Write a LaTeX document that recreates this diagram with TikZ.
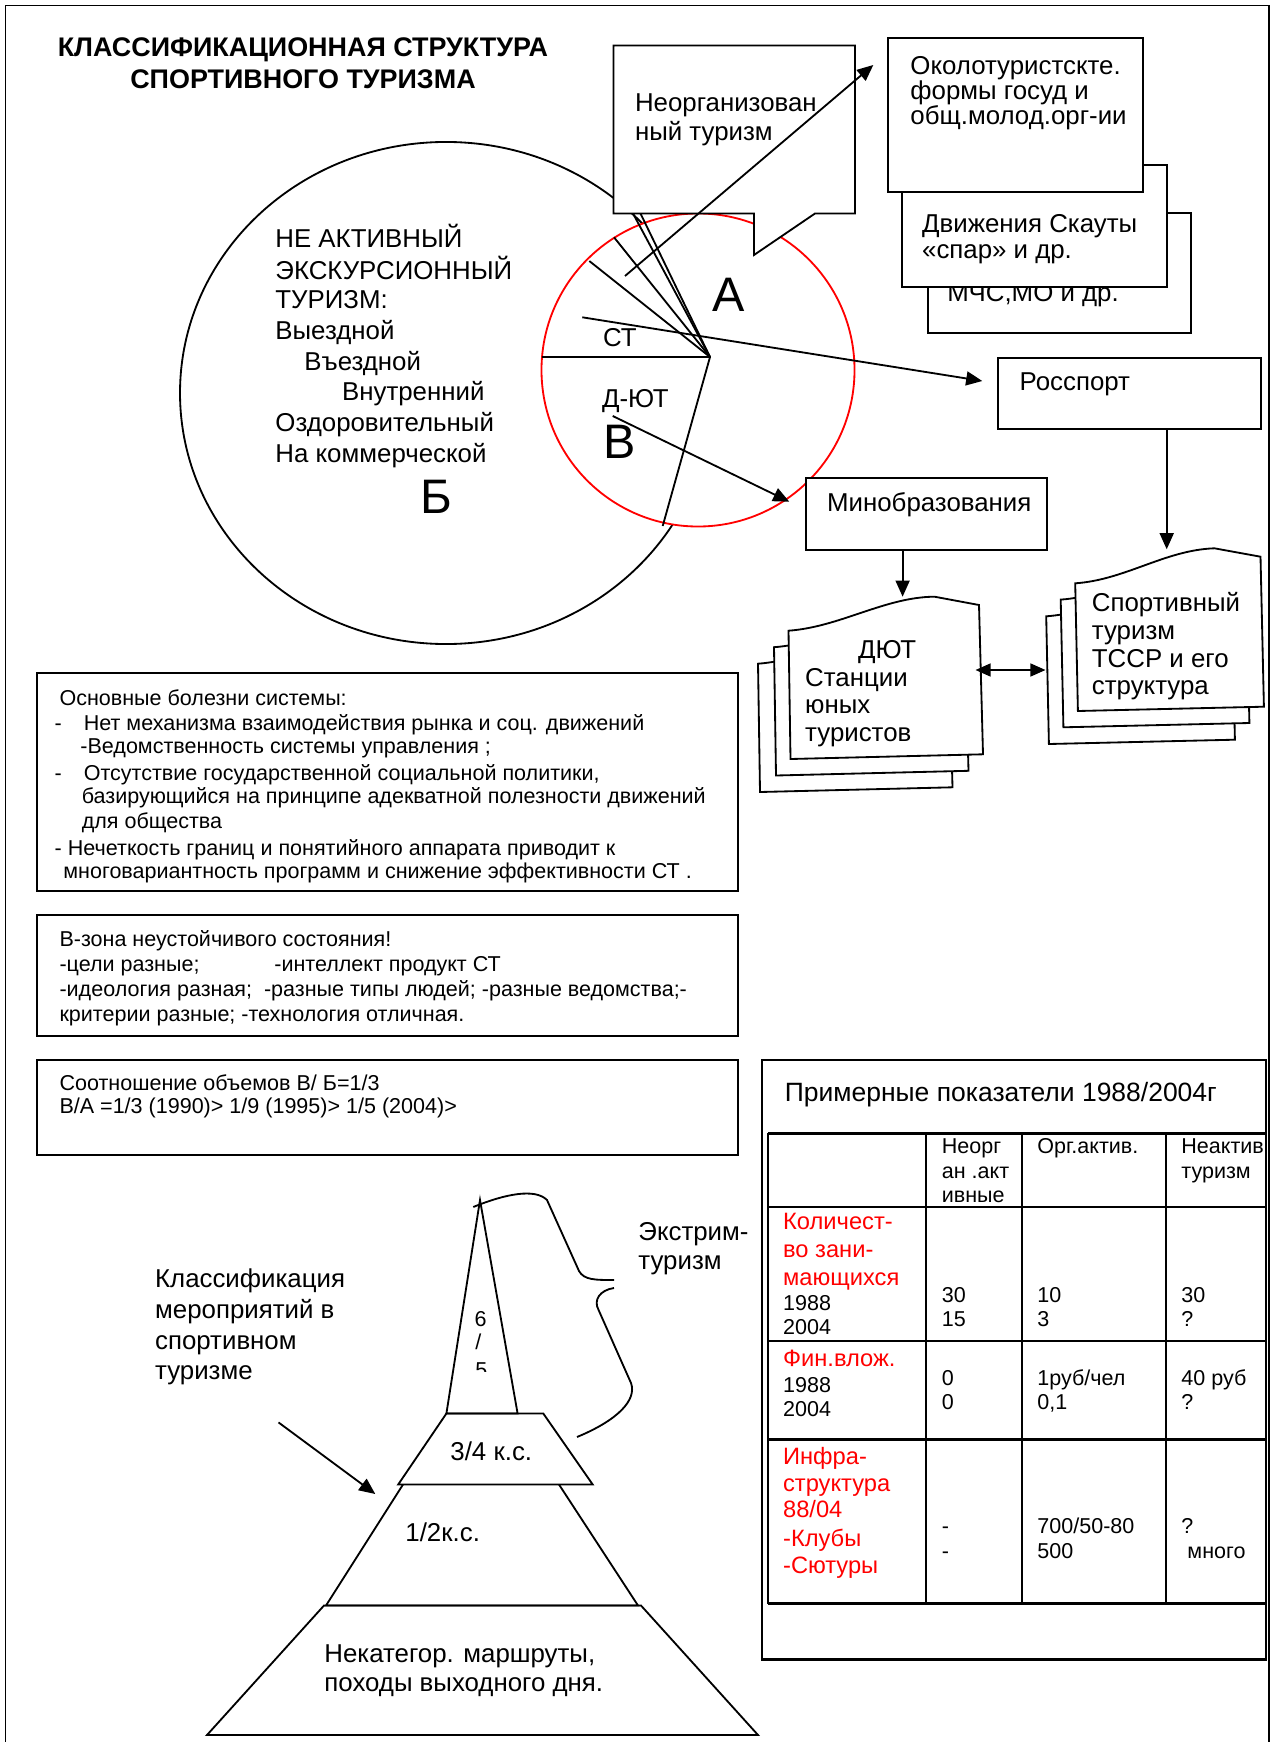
\documentclass[tikz,border=0pt]{standalone}
\usepackage{fontspec}
\setmainfont{Liberation Sans}
\usetikzlibrary{arrows.meta,shapes.geometric,fit}
\begin{document}
\begin{tikzpicture}[x=0.4645pt,y=-0.4645pt,
  ln/.style={line width=0.85pt},
  box/.style={draw, line width=0.85pt, fill=white, inner sep=0pt},
  arr/.style={line width=0.85pt, -{Triangle[length=7.5pt,width=6.5pt]}},
  darr/.style={line width=0.85pt, {Triangle[length=7pt,width=6pt]}-{Triangle[length=7pt,width=6pt]}},
  t12/.style={anchor=base west, inner sep=0pt, font=\fontsize{12}{14}\selectfont},
  t10/.style={anchor=base west, inner sep=0pt, font=\fontsize{10}{12}\selectfont},
  r11/.style={anchor=base west, inner sep=0pt, font=\fontsize{11}{13}\selectfont, text=red},
  t14/.style={anchor=base west, inner sep=0pt, font=\fontsize{12.3}{15}\selectfont},
  big/.style={anchor=base west, inner sep=0pt, font=\fontsize{22.5}{26}\selectfont},
  ttl/.style={anchor=base, inner sep=0pt, font=\fontsize{12.5}{15}\selectfont\bfseries},
  grid/.style={line width=1.2pt}
]
\useasboundingbox (0,0) rectangle (1275,1742);
\fill[white] (0,0) rectangle (1275,1742);

% page frame
\draw[line width=0.9pt] (5.5,1750) -- (5.5,5.5) -- (1269,5.5) -- (1269,1750);

% title
\node[ttl] (title1) at (303,56.8) {КЛАССИФИКАЦИОННАЯ СТРУКТУРА};
\node[ttl] (title2) at (303,88.4) {СПОРТИВНОГО ТУРИЗМА};

% big ellipse B
\node[draw, ln, ellipse, inner sep=0pt, minimum width=247.1pt, minimum height=233.2pt] (ellB) at (446,393) {};
\node[t12] (e1) at (275,248) {НЕ АКТИВНЫЙ};
\node[t12] (e2) at (275,279.1) {ЭКСКУРСИОННЫЙ};
\node[t12] (e3) at (275,308.7) {ТУРИЗМ:};
\node[t12] (e4) at (275,339.7) {Выездной};
\node[t12] (e5) at (304,370.7) {Въездной};
\node[t12] (e6) at (341.7,400.6) {Внутренний};
\node[t12] (e7) at (275,431.6) {Оздоровительный};
\node[t12] (e8) at (275,462.6) {На коммерческой};
\node[big] (labB) at (420,513.3) {Б};

% red circle A/V
\node[draw=red, line width=0.85pt, circle, fill=white, inner sep=0pt, minimum size=145.4pt] (redA) at (698,370) {};

% callout
\draw[ln, fill=white] (613.5,45.5) -- (855,45.5) -- (855,213.5) -- (815,213.5) -- (754,255) -- (754,213.5) -- (613.5,213.5) -- cycle;
\node[t12] (cal1) at (634.6,112) {Неорганизован};
\node[t12] (cal2) at (634.6,141) {ный туризм};

% fan inside circle
\coordinate (fc) at (710,357);
\draw[ln] (fc) -- (633,213.5);
\draw[ln] (fc) -- (640.5,213.5);
\draw[ln] (fc) -- (614,237.3);
\draw[ln] (fc) -- (589.3,261);
\draw[ln] (fc) -- (542,357);
\draw[ln] (fc) -- (662.7,526);

\node[t12] (labST) at (602.7,346.7) {СТ};
\node[t12] (labDUT) at (601.7,408) {Д-ЮТ};
\node[big] (labA) at (712,312) {А};
\node[big] (labV) at (603,458) {В};

% top right stacked boxes
\node[box, fit={(928.3,213.3) (1190.7,333.3)}] (mchs) {};
\node[t12] (mchsT) at (947,302) {МЧС,МО и др.};
\node[box, fit={(902.3,165) (1166.7,286.7)}] (scout) {};
\node[t12] (scout1) at (921.7,232.5) {Движения Скауты};
\node[t12] (scout2) at (921.7,258.5) {«спар» и др.};
\node[box, fit={(888.3,37.7) (1143.3,192.3)}] (okolo) {};
\node[t12] (ok1) at (910,74.5) {Околотуристскте.};
\node[t12] (ok2) at (910,99.5) {формы госуд и};
\node[t12] (ok3) at (910,124.5) {общ.молод.орг-ии};

% Rossport, Minobr
\node[box, fit={(998.3,357.7) (1260.7,429.3)}] (rossport) {};
\node[t12] (rossT) at (1019.3,390.7) {Росспорт};
\node[box, fit={(806,477.7) (1046.7,550)}] (minobr) {};
\node[t12] (minT) at (826.7,511) {Минобразования};

% arrows from circle
\coordinate (okStart) at (625,276);
\coordinate (okTip) at (873.3,65);
\draw[arr] (okStart) -- (okTip);
\coordinate (rsStart) at (582.3,317.3);
\coordinate (rsTip) at (982.3,381);
\draw[arr] (rsStart) -- (rsTip);
\coordinate (mnStart) at (612.7,416);
\coordinate (mnTip) at (789.3,501.7);
\draw[arr] (mnStart) -- (mnTip);

\coordinate (rsDownTip) at (1166.7,549.3);
\draw[arr] (rossport.south -| rsDownTip) -- (rsDownTip);
\coordinate (mnDownTip) at (902.6,596.7);
\draw[arr] (minobr.south -| mnDownTip) -- (mnDownTip);

% document stacks
\foreach \dx/\dy in {-30.5/33, -14.5/16.5, 0/0}{
  \begin{scope}[shift={(\dx,\dy)}]
    \draw[ln, fill=white] (788.5,630.7) .. controls (840,627) and (885,597) .. (934.5,596.7) -- (979,605) -- (983,754.3) -- (790.5,759) -- cycle;
  \end{scope}
}
\foreach \dx/\dy in {-29/33, -14.5/16.3, 0/0}{
  \begin{scope}[shift={(\dx,\dy)}]
    \draw[ln, fill=white] (1075.2,583.3) .. controls (1125,580) and (1165,550) .. (1214.4,548.3) -- (1260.5,556.7) -- (1263.9,706.7) -- (1077.9,711) -- cycle;
  \end{scope}
}
\node[t12] (dut1) at (857.7,658.3) {ДЮТ};
\node[t12] (dut2) at (804.8,686.7) {Станции};
\node[t12] (dut3) at (804.8,713.3) {юных};
\node[t12] (dut4) at (804.8,741.3) {туристов};
\node[t12] (sp1) at (1091.5,611) {Спортивный};
\node[t12] (sp2) at (1091.5,639.3) {туризм};
\node[t12] (sp3) at (1091.5,667.7) {ТССР и его};
\node[t12] (sp4) at (1091.5,694.3) {структура};
\coordinate (dblL) at (975.5,670);
\coordinate (dblR) at (1045.5,670);
\draw[darr] (dblL) -- (dblR);

% left text boxes
\node[box, fit={(37.3,673.3) (737.8,890.7)}] (ills) {};
\node[t10] (il1) at (59.1,705.7) {Основные болезни системы:};
\node[t10] (il2a) at (54.3,730) {-};
\node[t10] (il2) at (83.4,730) {Нет механизма взаимодействия рынка и соц. движений};
\node[t10] (il3) at (80,753.3) {-Ведомственность системы управления ;};
\node[t10] (il4a) at (54.3,780) {-};
\node[t10] (il4) at (83.4,780) {Отсутствие государственной социальной политики,};
\node[t10] (il5) at (81.4,803.3) {базирующийся на принципе адекватной полезности движений};
\node[t10] (il6) at (81.4,828.3) {для общества};
\node[t10] (il7) at (54.3,855) {- Нечеткость границ и понятийного аппарата приводит к};
\node[t10] (il8) at (63,878.3) {многовариантность программ и снижение эффективности СТ .};

\node[box, fit={(37.3,915) (737.8,1036)}] (zone) {};
\node[t10] (z1) at (59.1,946.7) {В-зона неустойчивого состояния!};
\node[t10] (z2) at (59.1,971.7) {-цели разные;};
\node[t10] (z2b) at (273.9,971.7) {-интеллект продукт СТ};
\node[t10] (z3) at (59.1,996.7) {-идеология разная;\ \ -разные типы людей; -разные ведомства;-};
\node[t10] (z4) at (59.1,1021.7) {критерии разные; -технология отличная.};

\node[box, fit={(37.3,1060) (737.8,1155)}] (ratio) {};
\node[t10] (r1) at (59.1,1090) {Соотношение объемов В/ Б=1/3};
\node[t10] (r2) at (59.1,1113.3) {В/А =1/3 (1990)> 1/9 (1995)> 1/5 (2004)>};

% table
\node[box, line width=1.1pt, fit={(762.2,1060) (1266,1659.3)}] (tbl) {};
\node[t14] (tblT) at (784.4,1101.7) {Примерные показатели 1988/2004г};
\foreach \xx in {768,926,1022,1166,1266}{\draw[grid] (\xx,1133.3) -- (\xx,1603.5);}
\foreach \yy in {1133.3,1207.1,1341,1439.3,1603.5}{\draw[grid] (768,\yy) -- (1266,\yy);}
\node[t10] (h21) at (941.4,1153.6) {Неорг};
\node[t10] (h22) at (941.4,1178) {ан .акт};
\node[t10] (h23) at (941.4,1202.5) {ивные};
\node[t10] (h31) at (1037,1153.6) {Орг.актив.};
\node[t10] (h41) at (1181,1153.6) {Неактив};
\node[t10] (h42) at (1181,1178) {туризм};
% row 1
\node[r11] (a1) at (782.7,1229.3) {Количест-};
\node[r11] (a2) at (782.7,1257.1) {во зани-};
\node[r11] (a3) at (782.7,1285.7) {мающихся};
\node[t10] (a4) at (782.7,1310.7) {1988};
\node[t10] (a5) at (782.7,1334.6) {2004};
\node[t10] (a21) at (941.4,1302.9) {30};
\node[t10] (a22) at (941.4,1326.8) {15};
\node[t10] (a31) at (1037,1302.9) {10};
\node[t10] (a32) at (1037,1326.8) {3};
\node[t10] (a41) at (1181,1302.9) {30};
\node[t10] (a42) at (1181,1326.8) {?};
% row 2
\node[r11] (b1) at (782.7,1366) {Фин.влож.};
\node[t10] (b2) at (782.7,1392.1) {1988};
\node[t10] (b3) at (782.7,1416.1) {2004};
\node[t10] (b21) at (941.4,1385.7) {0};
\node[t10] (b22) at (941.4,1409.6) {0};
\node[t10] (b31) at (1037,1385.7) {1руб/чел};
\node[t10] (b32) at (1037,1409.6) {0,1};
\node[t10] (b41) at (1181,1385.7) {40 руб};
\node[t10] (b42) at (1181,1409.6) {?};
% row 3
\node[r11] (c1) at (782.7,1464.3) {Инфра-};
\node[r11] (c2) at (782.7,1491.1) {структура};
\node[r11] (c3) at (782.7,1517.9) {88/04};
\node[r11] (c4) at (782.7,1546.4) {-Клубы};
\node[r11] (c5) at (782.7,1573.2) {-Сютуры};
\node[t10] (c21) at (941.4,1533.9) {-};
\node[t10] (c22) at (941.4,1558.9) {-};
\node[t10] (c31) at (1037,1533.9) {700/50-80};
\node[t10] (c32) at (1037,1558.9) {500};
\node[t10] (c41) at (1181,1533.9) {?};
\node[t10] (c42) at (1187,1558.9) {много};

% pyramid
\draw[ln] (480,1200) -- (446.4,1413.5) -- (517.6,1413.5) -- cycle;
\draw[ln] (446.4,1413.5) -- (543.3,1413.5) -- (592.7,1484.5) -- (398.2,1484.5) -- cycle;
\draw[ln] (403,1484.5) -- (326,1605.5) -- (638,1605.5) -- (559,1484.5);
\draw[ln] (324,1605.5) -- (641,1605.5) -- (758,1735) -- (207,1735) -- cycle;
\node[t10] (p6) at (474.1,1326.5) {6};
\node[t10] (psl) at (475,1349.5) {/};
\begin{scope}
  \clip (455,1352) rectangle (505,1371.4);
  \node[t10] (p5) at (475,1377.6) {5};
\end{scope}
\node[t12] (p34) at (450,1460) {3/4 к.с.};
\node[t12] (p12) at (405,1541.6) {1/2к.с.};
\node[t12] (pn1) at (324,1662.5) {Некатегор. маршруты,};
\node[t12] (pn2) at (324,1691.8) {походы выходного дня.};

% brace and labels
\draw[ln] (473.3,1207) .. controls (505,1194) and (535,1188) .. (547,1200) -- (579,1271) .. controls (584,1280) and (595,1280) .. (614,1280);
\draw[ln] (614,1288) .. controls (600,1290) and (593,1300) .. (598.6,1310) -- (631,1383) .. controls (637,1400) and (618,1420) .. (577,1437);
\node[t12] (ext1) at (638,1240) {Экстрим-};
\node[t12] (ext2) at (638,1269.4) {туризм};

\node[t12] (cl1) at (154.7,1287.8) {Классификация};
\node[t12] (cl2) at (154.7,1318.4) {мероприятий в};
\node[t12] (cl3) at (154.7,1349) {спортивном};
\node[t12] (cl4) at (154.7,1379.6) {туризме};
\coordinate (clStart) at (278.5,1422.4);
\coordinate (clTip) at (375.3,1494);
\draw[arr] (clStart) -- (clTip);
\end{tikzpicture}
\end{document}
